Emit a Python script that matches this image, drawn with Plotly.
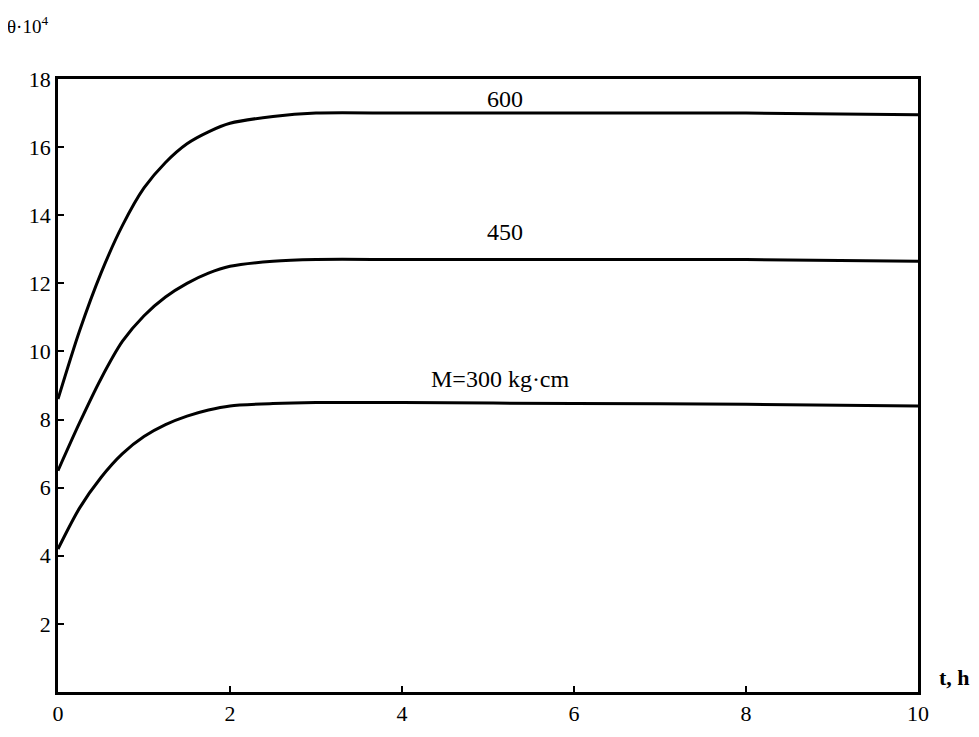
import plotly.graph_objects as go

t = [0, 0.25, 0.5, 0.75, 1.0, 1.25, 1.5, 1.75, 2.0, 2.5, 3, 4, 6, 8, 10]
theta_600 = [8.6, 10.6, 12.3, 13.7, 14.8, 15.55, 16.1, 16.45, 16.7, 16.9, 17.0, 17.0, 17.0, 17.0, 16.95]
theta_450 = [6.5, 7.9, 9.2, 10.3, 11.05, 11.6, 12.0, 12.3, 12.5, 12.65, 12.7, 12.7, 12.7, 12.7, 12.65]
theta_300 = [4.2, 5.4, 6.3, 7.0, 7.5, 7.85, 8.1, 8.28, 8.4, 8.47, 8.5, 8.5, 8.47, 8.45, 8.4]

labels = ["600", "450", "M=300 kg·cm"]
label_x = [5.2, 5.2, 5.15]
label_y = [17.4, 13.5, 9.2]

x_ticks = [0, 2, 4, 6, 8, 10]
y_ticks = [2, 4, 6, 8, 10, 12, 14, 16, 18]

FONT = "Times New Roman, Liberation Serif, DejaVu Serif, serif"

fig = go.Figure()
for ys in (theta_600, theta_450, theta_300):
    fig.add_trace(go.Scatter(x=t, y=ys, mode="lines",
                             line=dict(color="black", width=3, shape="spline", smoothing=0.8),
                             showlegend=False, hoverinfo="skip"))

for txt, lx, ly in zip(labels, label_x, label_y):
    fig.add_annotation(x=lx, y=ly, text=txt, showarrow=False,
                       font=dict(family=FONT, size=24, color="black"))

fig.add_annotation(xref="paper", yref="paper", x=-0.062, y=1.065, xanchor="left",
                   yanchor="bottom", text="θ·10<sup>4</sup>", showarrow=False,
                   font=dict(family=FONT, size=19, color="black"))
fig.add_annotation(xref="paper", yref="paper", x=1.022, y=0.0, xanchor="left",
                   yanchor="bottom", text="<b>t, h</b>", showarrow=False,
                   font=dict(family=FONT, size=22, color="black"))

axis_common = dict(showgrid=False, zeroline=False, showline=True, linecolor="black",
                   linewidth=2.5, mirror=True, ticks="inside", ticklen=6, tickwidth=2,
                   tickcolor="black",
                   tickfont=dict(family=FONT, size=22, color="black"))
fig.update_xaxes(range=[0, 10], tickvals=x_ticks, ticktext=[str(v) for v in x_ticks],
                 **axis_common)
fig.update_yaxes(range=[0, 18], tickvals=y_ticks, ticktext=[str(v) for v in y_ticks],
                 **axis_common)

fig.update_layout(width=971, height=729,
                  margin=dict(l=50, r=61, t=71, b=45),
                  plot_bgcolor="white", paper_bgcolor="white",
                  font=dict(family=FONT, color="black"))

fig.write_html("out.html")
